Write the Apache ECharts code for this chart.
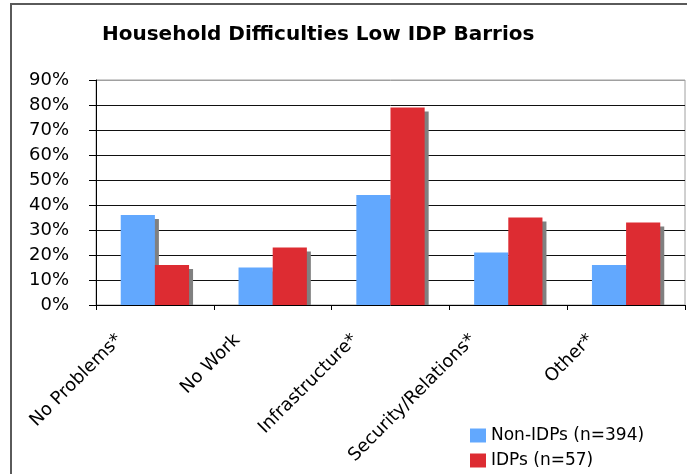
<!DOCTYPE html>
<html>
<head>
<meta charset="utf-8">
<script src="https://cdn.jsdelivr.net/npm/echarts@6/dist/echarts.min.js"></script>
<style>html,body{margin:0;padding:0;background:#fff}#c{width:687px;height:474px}</style>
</head>
<body>
<div id="c"></div>
<script>
var categories = ['No Problems*', 'No Work', 'Infrastructure*', 'Security/Relations*', 'Other*'];
var nonIdpValues = [36, 15, 44, 21, 16];
var idpValues = [16, 23, 79, 35, 33];
var seriesNames = ['Non-IDPs (n=394)', 'IDPs (n=57)'];
var titleText = 'Household Difficulties Low IDP Barrios';

var FONT = 'DejaVu Sans';
var chart = echarts.init(document.getElementById('c'), null, {renderer: 'canvas'});
var shadow = {shadowColor: '#808080', shadowOffsetX: 4, shadowOffsetY: 4, shadowBlur: 0};
var splitColors = ['#111','#111','#111','#111','#111','#111','#111','#111','#111','#a0a0a0'];
chart.setOption({
  animation: false,
  backgroundColor: '#fff',
  title: {
    text: titleText, left: 97, top: 20,
    textStyle: {fontFamily: FONT, fontWeight: 'bold', fontSize: 20, color: '#000'}
  },
  graphic: [{
    type: 'rect', silent: true, z: 100,
    shape: {x: 11, y: 4, width: 720, height: 520},
    style: {fill: 'none', stroke: '#5a5a5a', lineWidth: 2}
  }, {
    type: 'rect', silent: true, z: 3,
    shape: {x: 97, y: 305.5, width: 587, height: 6},
    style: {fill: '#fff'}
  }],
  grid: {left: 96, right: 2, top: 80, bottom: 169, show: true, borderColor: '#a0a0a0', borderWidth: 1},
  legend: {
    orient: 'vertical', left: 470, top: 427, padding: 0,
    itemWidth: 16, itemHeight: 14, itemGap: 8,
    icon: 'rect',
    textStyle: {fontFamily: FONT, fontSize: 17, color: '#000', lineHeight: 14},
    data: seriesNames
  },
  xAxis: {
    type: 'category', data: categories, z: 5,
    axisLine: {lineStyle: {color: '#000', width: 1}},
    axisTick: {show: true, length: 5, lineStyle: {color: '#000'}},
    axisLabel: {
      rotate: 45, interval: 0, margin: -3,
      fontFamily: FONT, fontSize: 18, color: '#000',
      padding: [0, 50, 0, 0]
    }
  },
  yAxis: {
    type: 'value', min: 0, max: 90, interval: 10,
    axisLine: {show: true, lineStyle: {color: '#000', width: 1}},
    axisTick: {show: true, inside: false, length: 7, lineStyle: {color: '#000'}},
    axisLabel: {formatter: '{value}%', margin: 27, fontFamily: FONT, fontSize: 18, color: '#000'},
    splitLine: {show: true, lineStyle: {color: splitColors, width: 1}}
  },
  series: [
    {name: seriesNames[0], type: 'bar', data: nonIdpValues, barGap: '0%', barCategoryGap: '42%',
     itemStyle: Object.assign({color: '#62a8fe'}, shadow)},
    {name: seriesNames[1], type: 'bar', data: idpValues,
     itemStyle: Object.assign({color: '#dd2c32'}, shadow)}
  ]
});
</script>
</body>
</html>
